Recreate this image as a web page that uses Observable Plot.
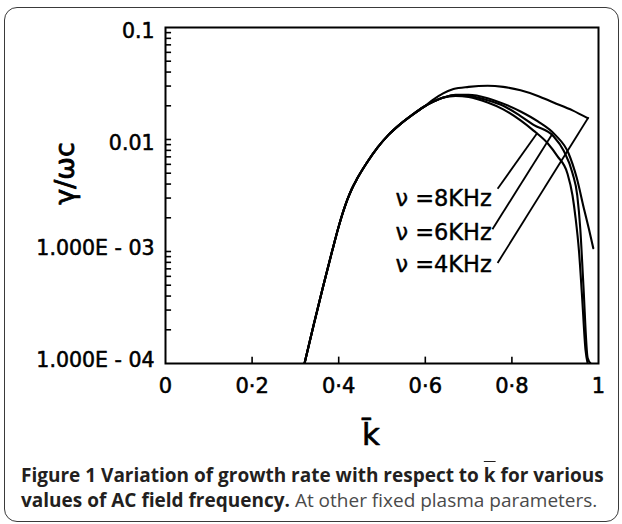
<!DOCTYPE html>
<html><head><meta charset="utf-8">
<script src="https://cdn.jsdelivr.net/npm/d3@7"></script>
<script src="https://cdn.jsdelivr.net/npm/@observablehq/plot@0.6"></script>
<style>
body{margin:0;background:#fff;width:622px;height:524px;position:relative;overflow:hidden}
#box{position:absolute;left:4px;top:7px;width:615px;height:515px;border:1.5px solid #3a3a3a;border-radius:13px;box-sizing:border-box}
#chart{position:absolute;left:0;top:0}
#cap{position:absolute;left:21px;top:463px;font-family:"Open Sans",sans-serif;font-size:19px;line-height:25px;color:#231f20;white-space:nowrap}
#cap b{font-weight:700}
#cap .n{color:#4a4a4a;font-weight:400}
.ov{text-decoration:overline}
</style></head><body>
<div id="box"></div>
<div id="chart"></div>
<div id="cap"><b>Figure 1 Variation of growth rate with respect to <span class="ov">k</span> for various<br>values of AC field frequency.</b> <span class="n">At other fixed plasma parameters.</span></div>
<script>
// shared rising branch (all curves coincide here)
const sharedK = [0.321,0.342,0.363,0.384,0.402,0.42,0.43,0.443,0.465,0.49,0.515,0.543,0.57,0.596,0.62,0.642];
const sharedG = [1.0e-4,2.2e-4,4.7e-4,9.8e-4,1.78e-3,2.9e-3,3.6e-3,4.5e-3,6.2e-3,8.5e-3,0.011,0.0138,0.0166,0.0195,0.0219,0.0237];
// ν = 8KHz branch
const k8 = [0.67,0.70,0.744,0.78,0.82,0.85,0.882,0.905,0.928,0.94,0.947,0.955,0.962,0.970,0.975];
const g8 = [0.0245,0.024,0.0214,0.0186,0.0148,0.012,0.0093,0.0071,0.005,0.00316,0.002,0.001,0.0004,0.000132,0.0001];
// ν = 6KHz branch
const k6 = [0.67,0.70,0.744,0.78,0.82,0.85,0.896,0.92,0.94,0.951,0.958,0.965,0.975,0.982];
const g6 = [0.0248,0.0245,0.0224,0.020,0.0162,0.0135,0.0107,0.0079,0.005,0.00316,0.00158,0.00051,0.000112,0.0001];
// unlabelled outer lower branch
const kX = [0.67,0.70,0.744,0.78,0.82,0.86,0.90,0.931,0.95,0.966,0.978,0.988];
const gX = [0.0251,0.0251,0.0234,0.0209,0.0178,0.0145,0.011,0.0075,0.0045,0.00245,0.00158,0.00107];
// ν = 4KHz upper arc (leaves the shared branch at k ≈ 0.6)
const k4 = [0.62,0.64,0.665,0.70,0.744,0.78,0.82,0.86,0.896,0.94,0.975];
const g4 = [0.0229,0.0257,0.0282,0.0295,0.0302,0.0295,0.0275,0.0245,0.0214,0.0182,0.0155];

// labels and their leader lines
const labelText = ["ν =8KHz","ν =6KHz","ν =4KHz"];
const labelK = [0.531,0.531,0.531];
const labelG = [0.00295,0.00148,0.00076];
const leadK1 = [0.767,0.755,0.767];
const leadG1 = [0.00363,0.00158,0.00079];
const leadK2 = [0.859,0.894,0.977];
const leadG2 = [0.0115,0.0113,0.0158];

// axes
const xTicks = [0,0.2,0.4,0.6,0.8,1];
const xTickLabels = ["0","0·2","0·4","0·6","0·8","1"];
const yTicks = [0.1,0.01,0.001,0.0001];
const yTickLabels = ["0.1","0.01","1.000E - 03","1.000E - 04"];
const yMinorTicks = [0.0002,0.0003,0.0004,0.0005,0.0006,0.0007,0.0008,0.0009,0.001,
  0.002,0.003,0.004,0.005,0.006,0.007,0.008,0.009,0.01,
  0.02,0.03,0.04,0.05,0.06,0.07,0.08,0.09];

const rows = [];
function add(name, ks, gs){ ks.forEach((k,i)=>rows.push({series:name,k,g:gs[i]})); }
add("8KHz", sharedK.concat(k8), sharedG.concat(g8));
add("6KHz", sharedK.concat(k6), sharedG.concat(g6));
add("outer", sharedK.concat(kX), sharedG.concat(gX));
add("4KHz", sharedK.slice(0,14).concat(k4), sharedG.slice(0,14).concat(g4));

const labels = labelText.map((t,i)=>({t,k:labelK[i],g:labelG[i]}));
const leaders = leadK1.map((k,i)=>({k1:k,g1:leadG1[i],k2:leadK2[i],g2:leadG2[i]}));

const FONT = "'DejaVu Sans',sans-serif";
const ink = {fill:"#000", stroke:"#000", strokeWidth:0.55};

const chart = Plot.plot({
  width:622, height:460,
  marginLeft:165, marginRight:24, marginTop:27, marginBottom:97,
  style:{fontFamily:FONT, background:"transparent", overflow:"visible", color:"#000"},
  x:{domain:[0,1], axis:null},
  y:{type:"log", domain:[1e-4,0.1], axis:null},
  marks:[
    Plot.ruleY(yMinorTicks, {y:d=>d, x1:0, x2:0.014, stroke:"#000", strokeWidth:1.6}),
    Plot.ruleX(xTicks.slice(1,-1), {x:d=>d, y1:1e-4, y2:1.14e-4, stroke:"#000", strokeWidth:1.6}),
    Plot.frame({stroke:"#000", strokeWidth:2}),
    Plot.text(yTicks, {filter:d=>d>=0.01, x:0, y:d=>d, text:d=>yTickLabels[yTicks.indexOf(d)],
      textAnchor:"end", dx:-11, dy:4, fontSize:20.5, ...ink}),
    Plot.text(yTicks, {filter:d=>d<0.01, x:0, y:d=>d, text:d=>yTickLabels[yTicks.indexOf(d)],
      textAnchor:"end", dx:-11, dy:-3, fontSize:20.5, ...ink}),
    Plot.text(xTicks, {x:d=>d, y:1e-4, text:d=>xTickLabels[xTicks.indexOf(d)],
      dy:23, fontSize:21, ...ink}),
    Plot.line(rows, {x:"k", y:"g", z:"series", stroke:"#000", strokeWidth:2.1, curve:"monotone-x", clip:true}),
    Plot.link(leaders, {x1:"k1", y1:"g1", x2:"k2", y2:"g2", stroke:"#000", strokeWidth:1.8}),
    Plot.text(labels, {x:"k", y:"g", text:"t", textAnchor:"start", fontSize:22.5, ...ink, strokeWidth:0.4}),
    Plot.text(["γ/ωc"], {frameAnchor:"left", textAnchor:"middle", lineAnchor:"middle", dx:-100, dy:-22, rotate:-90, fontSize:27, ...ink, strokeWidth:0.8}),
    Plot.text(["k\u0304"], {frameAnchor:"bottom", textAnchor:"middle", lineAnchor:"middle", dx:-11, dy:72, fontSize:31, ...ink, strokeWidth:0.7})
  ]
});
document.getElementById("chart").appendChild(chart);
</script>
</body></html>
